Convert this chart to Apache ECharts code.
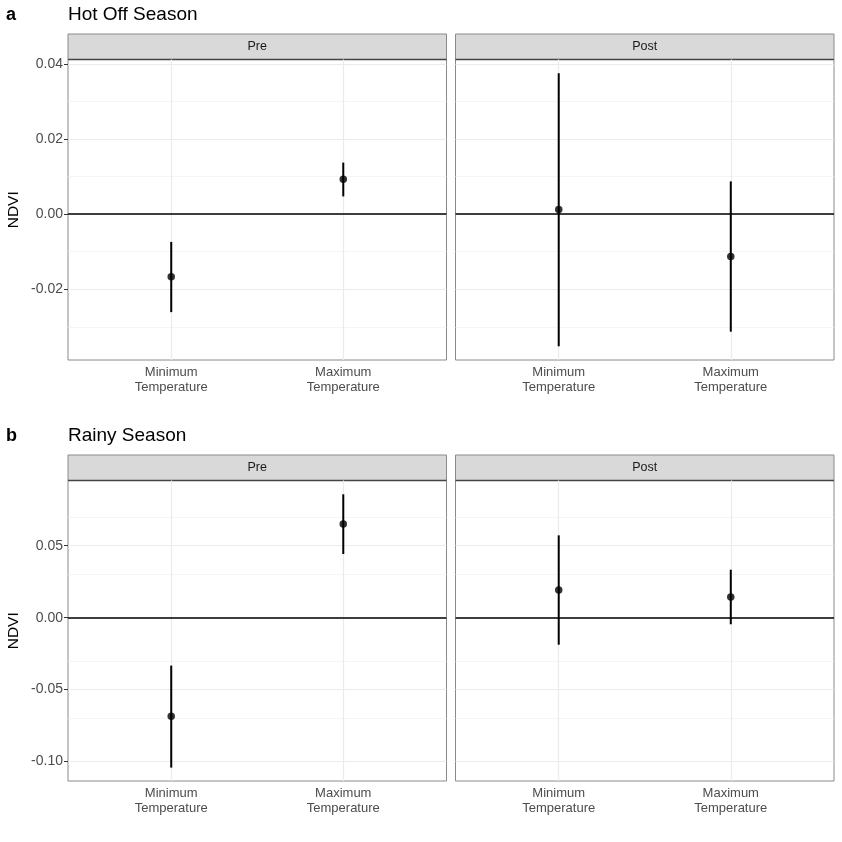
<!DOCTYPE html>
<html style="height: 100%">
<head>
    <meta charset="utf-8">
    <title>NDVI</title>
</head>
<body style="height: 100%; margin: 0">
<div id="container" style="width: 842px; height: 842px"></div>
<script src="https://cdn.jsdelivr.net/npm/echarts@6/dist/echarts.min.js"></script>
<script type="text/javascript">
    var categories = ['Minimum\nTemperature', 'Maximum\nTemperature'];
    var facets = ['Pre', 'Post'];

    // Hot Off Season
    var hotPreEst = [-0.0167, 0.0093];
    var hotPreLow = [-0.0261, 0.0047];
    var hotPreHigh = [-0.0074, 0.0137];
    var hotPostEst = [0.0012, -0.0113];
    var hotPostLow = [-0.0352, -0.0313];
    var hotPostHigh = [0.0375, 0.0087];

    // Rainy Season
    var rainyPreEst = [-0.0685, 0.0651];
    var rainyPreLow = [-0.1042, 0.0442];
    var rainyPreHigh = [-0.0333, 0.0857];
    var rainyPostEst = [0.0192, 0.0144];
    var rainyPostLow = [-0.0188, -0.0046];
    var rainyPostHigh = [0.0572, 0.0333];

    var hotTicks = [-0.02, 0.00, 0.02, 0.04];
    var hotMinor = [-0.03, -0.01, 0.01, 0.03];
    var rainyTicks = [-0.10, -0.05, 0.00, 0.05];
    var rainyMinor = [-0.075, -0.025, 0.025, 0.075];

    var dom = document.getElementById('container');
    var myChart = echarts.init(dom);

    var fontFamily = 'Liberation Sans, Arial, sans-serif';
    var panelLeft = [68, 455.5];
    var panelWidth = 378.5;
    var rowTop = [59.5, 480.5];
    var panelHeight = 300.5;
    var rows = [
        { ticks: hotTicks, minor: hotMinor, min: -0.03884, max: 0.04114,
          est: [hotPreEst, hotPostEst], low: [hotPreLow, hotPostLow], high: [hotPreHigh, hotPostHigh] },
        { ticks: rainyTicks, minor: rainyMinor, min: -0.1135, max: 0.0953,
          est: [rainyPreEst, rainyPostEst], low: [rainyPreLow, rainyPostLow], high: [rainyPreHigh, rainyPostHigh] }
    ];

    var grid = [], xAxis = [], yAxis = [], series = [], graphic = [];

    rows.forEach(function (row, r) {
        facets.forEach(function (facet, f) {
            var idx = r * 2 + f;
            grid.push({
                left: panelLeft[f], top: rowTop[r], width: panelWidth, height: panelHeight,
                show: true, borderColor: '#8a8a8a', borderWidth: 1, backgroundColor: '#fff'
            });
            xAxis.push({
                type: 'value', gridIndex: idx, min: 0.4, max: 2.6,
                axisLine: { show: false },
                axisTick: { show: true, customValues: [1, 2], length: 4, lineStyle: { color: '#333' } },
                axisLabel: {
                    customValues: [1, 2], color: '#4d4d4d', fontSize: 13, fontFamily: fontFamily,
                    lineHeight: 15, margin: 5,
                    formatter: function (v) { return categories[Math.round(v) - 1]; }
                },
                splitLine: { show: false }
            });
            yAxis.push({
                type: 'value', gridIndex: idx, min: row.min, max: row.max,
                name: f === 0 ? 'NDVI' : '', nameLocation: 'middle', nameGap: 46, nameRotate: 90,
                nameTextStyle: { fontSize: 15.5, color: '#000', fontFamily: fontFamily },
                axisLine: { show: false },
                axisTick: { show: f === 0, customValues: row.ticks, length: 4, lineStyle: { color: '#333' } },
                axisLabel: {
                    show: f === 0, customValues: row.ticks, color: '#4d4d4d', fontSize: 14,
                    fontFamily: fontFamily, margin: 5,
                    formatter: function (v) { return v.toFixed(2); }
                },
                splitLine: { show: false }
            });

            // grid lines
            var gridLines = [];
            row.minor.forEach(function (v) {
                gridLines.push({ yAxis: v, lineStyle: { color: '#f3f3f3', width: 0.8 } });
            });
            row.ticks.forEach(function (v) {
                gridLines.push({ yAxis: v, lineStyle: { color: '#ebebeb', width: 1.2 } });
            });
            [1, 2].forEach(function (v) {
                gridLines.push({ xAxis: v, lineStyle: { color: '#ebebeb', width: 1.2 } });
            });
            series.push({
                type: 'line', xAxisIndex: idx, yAxisIndex: idx, data: [], z: 1, silent: true,
                markLine: {
                    z: 1, silent: true, symbol: 'none', label: { show: false }, animation: false,
                    lineStyle: { type: 'solid' },
                    data: gridLines
                }
            });
            // zero line
            series.push({
                type: 'line', xAxisIndex: idx, yAxisIndex: idx, data: [], z: 2, silent: true,
                markLine: {
                    z: 2, silent: true, symbol: 'none', label: { show: false }, animation: false,
                    lineStyle: { type: 'solid', color: '#000', width: 1.5 },
                    data: [{ yAxis: 0 }]
                }
            });
            // error bars
            series.push({
                type: 'custom', xAxisIndex: idx, yAxisIndex: idx, z: 3, silent: true,
                data: categories.map(function (c, i) { return [i + 1, row.low[f][i], row.high[f][i]]; }),
                renderItem: function (params, api) {
                    var p1 = api.coord([api.value(0), api.value(1)]);
                    var p2 = api.coord([api.value(0), api.value(2)]);
                    return {
                        type: 'line',
                        shape: { x1: p1[0], y1: p1[1], x2: p2[0], y2: p2[1] },
                        style: { stroke: '#000', lineWidth: 2 }
                    };
                }
            });
            // point estimates
            series.push({
                type: 'scatter', xAxisIndex: idx, yAxisIndex: idx, z: 4, silent: true,
                symbol: 'circle', symbolSize: 7.5,
                itemStyle: { color: '#000' },
                data: categories.map(function (c, i) { return [i + 1, row.est[f][i]]; })
            });

            // strip
            graphic.push({
                type: 'rect',
                shape: { x: panelLeft[f], y: rowTop[r] - 25.5, width: panelWidth, height: 25.5 },
                style: { fill: '#d9d9d9', stroke: '#8a8a8a', lineWidth: 1 }
            });
            graphic.push({
                type: 'line',
                shape: { x1: panelLeft[f], y1: rowTop[r], x2: panelLeft[f] + panelWidth, y2: rowTop[r] },
                style: { stroke: '#444', lineWidth: 1.5 }
            });
            graphic.push({
                type: 'text',
                x: panelLeft[f] + panelWidth / 2, y: rowTop[r] - 12.75,
                style: {
                    text: facet, fill: '#1a1a1a', font: '12.5px ' + fontFamily,
                    align: 'center', verticalAlign: 'middle'
                }
            });
        });
    });

    var titles = [
        { tag: 'a', text: 'Hot Off Season', y: 15 },
        { tag: 'b', text: 'Rainy Season', y: 436 }
    ];
    titles.forEach(function (t) {
        graphic.push({
            type: 'text', x: 6, y: t.y,
            style: { text: t.tag, fill: '#000', font: 'bold 18px ' + fontFamily, verticalAlign: 'middle' }
        });
        graphic.push({
            type: 'text', x: 68, y: t.y,
            style: { text: t.text, fill: '#000', font: '19px ' + fontFamily, verticalAlign: 'middle' }
        });
    });

    option = {
        backgroundColor: '#fff',
        animation: false,
        grid: grid,
        xAxis: xAxis,
        yAxis: yAxis,
        series: series,
        graphic: graphic
    };
    myChart.setOption(option, true);
</script>
</body>
</html>
